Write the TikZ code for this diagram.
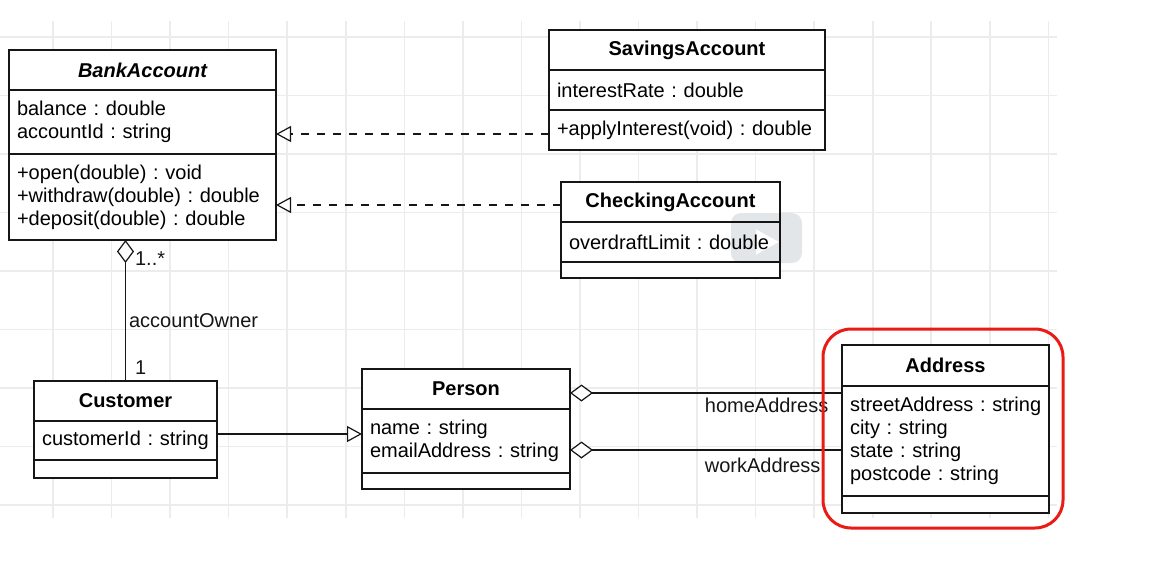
\documentclass[tikz,border=0pt]{standalone}
\usepackage{fontspec}
\setmainfont{Liberation Sans}
\usetikzlibrary{positioning,calc,arrows.meta}
\definecolor{gridgray}{RGB}{236, 236, 236}
\definecolor{umlline}{RGB}{22, 22, 22}
\definecolor{markred}{RGB}{234, 26, 20}
\definecolor{overlaygray}{RGB}{226, 230, 232}

\tikzset{
    classtitle/.style={draw=umlline, fill=white, line width=1.2pt, anchor=north west, inner sep=0pt, outer sep=0pt, font=\fontsize{20}{23}\selectfont\bfseries},
    classbody/.style={draw=umlline, fill=white, line width=1.2pt, anchor=north west, inner xsep=8pt, inner ysep=2pt, outer sep=0pt, align=left},
    classempty/.style={draw=umlline, fill=white, line width=1.2pt, anchor=north west, inner sep=0pt, outer sep=0pt},
    realize/.style={draw=umlline, line width=1.2pt, dash pattern=on 8pt off 8pt, -{Triangle[open, fill=white, length=15pt, width=16pt]}},
    inherit/.style={draw=umlline, line width=1.2pt, -{Triangle[open, fill=white, length=15pt, width=16pt]}},
    aggregate/.style={draw=umlline, line width=1.2pt, {Diamond[open, fill=white, length=23pt, width=17pt]}-},
    assoclabel/.style={inner sep=1pt, text=umlline}
}

\begin{document}
\frenchspacing
\begin{tikzpicture}[x=1pt, y=-1pt, font=\fontsize{20}{23}\selectfont]
    \useasboundingbox (0,0) rectangle (1156,562);

    % Background grid
    \foreach \gx in {0,...,17}
        \draw[gridgray, line width=1.6pt] ({53+58.55*\gx},21) -- ({53+58.55*\gx},518);
    \foreach \gy in {0,...,8}
        \draw[gridgray, line width=1.6pt] (0,{37+58.5*\gy}) -- (1057,{37+58.5*\gy});

    % BankAccount
    \node[classtitle, minimum width=267pt, minimum height=40pt] (ba-title) at (9,50) {\itshape BankAccount};
    \node[classbody, text width=251pt, minimum height=64pt] (ba-attr) at (ba-title.south west) {balance~:~double\\accountId~:~string};
    \node[classbody, text width=251pt, minimum height=86pt] (ba-ops) at (ba-attr.south west) {+open(double)~:~void\\+withdraw(double)~:~double\\+deposit(double)~:~double};

    % SavingsAccount
    \node[classtitle, minimum width=276pt, minimum height=40pt] (sav-title) at (549,30) {SavingsAccount};
    \node[classbody, text width=260pt, minimum height=40pt] (sav-attr) at (sav-title.south west) {interestRate~:~double};
    \node[classbody, text width=260pt, minimum height=40pt] (sav-ops) at (sav-attr.south west) {+applyInterest(void)~:~double};

    % CheckingAccount
    \node[classtitle, minimum width=219pt, minimum height=40pt] (chk-title) at (561,182) {CheckingAccount};
    \node[classbody, text width=203pt, minimum height=40pt] (chk-attr) at (chk-title.south west) {overdraftLimit~:~double};
    \node[classempty, minimum width=219pt, minimum height=16pt] (chk-ops) at (chk-attr.south west) {};

    % Customer
    \node[classtitle, minimum width=183pt, minimum height=40pt] (cus-title) at (34,381) {Customer};
    \node[classbody, text width=167pt, minimum height=39pt] (cus-attr) at (cus-title.south west) {customerId~:~string};
    \node[classempty, minimum width=183pt, minimum height=18pt] (cus-ops) at (cus-attr.south west) {};

    % Person
    \node[classtitle, minimum width=208pt, minimum height=40pt] (per-title) at (362,369) {Person};
    \node[classbody, text width=192pt, minimum height=64pt] (per-attr) at (per-title.south west) {name~:~string\\emailAddress~:~string};
    \node[classempty, minimum width=208pt, minimum height=16pt] (per-ops) at (per-attr.south west) {};

    % Address
    \node[classtitle, minimum width=207pt, minimum height=41pt] (adr-title) at (842,345) {Address};
    \node[classbody, text width=191pt, minimum height=110pt] (adr-attr) at (adr-title.south west) {streetAddress~:~string\\city~:~string\\state~:~string\\postcode~:~string};
    \node[classempty, minimum width=207pt, minimum height=17pt] (adr-ops) at (adr-attr.south west) {};

    % Link end points
    \coordinate (sav-link) at ([yshift=-4pt]sav-ops.west);
    \coordinate (chk-link) at ([yshift=-3pt]chk-title.west);
    \coordinate (cus-link) at ([yshift=6.5pt]cus-attr.east);
    \coordinate (home-link) at ([yshift=-4pt]per-title.east);
    \coordinate (work-link) at ([yshift=-9pt]per-attr.east);

    % Realizations
    \draw[realize] (sav-link) -- (sav-link -| ba-attr.east);
    \draw[realize] (chk-link) -- (chk-link -| ba-ops.east);

    % Generalization
    \draw[inherit] (cus-link) -- (cus-link -| per-attr.west);

    % Aggregations
    \draw[aggregate] (cus-title.north |- ba-ops.south) -- (cus-title.north)
        node[assoclabel, pos=0.135, anchor=west, xshift=8pt] (own-many) {1..*}
        node[assoclabel, pos=0.574, anchor=west, xshift=2pt] (own-role) {accountOwner}
        node[assoclabel, pos=0.908, anchor=west, xshift=8pt] (own-one) {1};
    \draw[aggregate] (home-link) -- (home-link -| adr-attr.west)
        node[assoclabel, pos=0.49, anchor=north west, yshift=-3pt] (home-role) {homeAddress};
    \draw[aggregate] (work-link) -- (work-link -| adr-attr.west)
        node[assoclabel, pos=0.49, anchor=north west, yshift=-6pt] (work-role) {workAddress};

    % Highlight round Address
    \draw[markred, line width=3pt, rounded corners=28pt]
        ([xshift=-19pt, yshift=16pt]adr-title.north west) rectangle ([xshift=14pt, yshift=-15pt]adr-ops.south east);

    % Play button overlay
    \fill[overlaygray, blend mode=multiply, even odd rule, rounded corners=10pt]
        (731,213) rectangle (802,263)
        [sharp corners] (756,229) -- (756,255) -- (779,242) -- cycle;
\end{tikzpicture}
\end{document}
